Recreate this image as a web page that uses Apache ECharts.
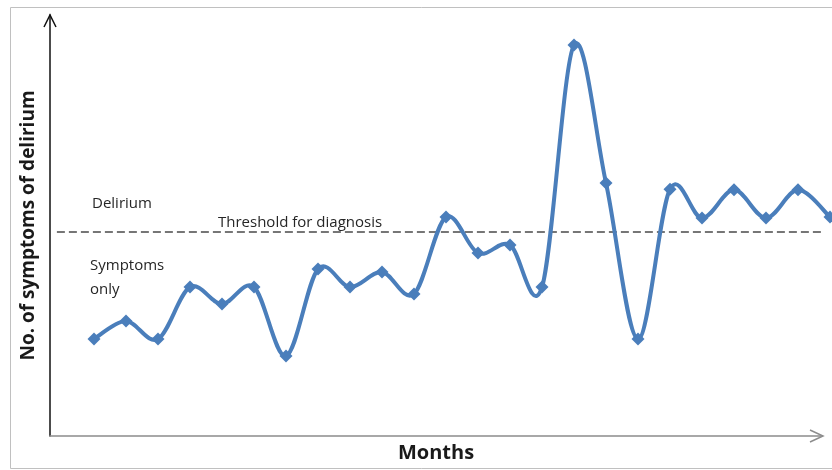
<!DOCTYPE html>
<html><head><meta charset="utf-8">
<script src="https://cdn.jsdelivr.net/npm/echarts@6/dist/echarts.min.js"></script>
<style>html,body{margin:0;padding:0;background:#fff}#c{width:832px;height:470px}</style>
</head><body><div id="c"></div>
<script>
const months = [1,2,3,4,5,6,7,8,9,10,11,12,13,14,15,16,17,18,19,20,21,22,23,24];
const symptoms = [2.85,3.38,2.85,4.38,3.88,4.38,2.35,4.91,4.38,4.82,4.18,6.44,5.38,5.62,4.38,11.5,7.44,2.85,7.26,6.41,7.24,6.41,7.24,6.44];
const threshold = 6;
const thresholdSpan = [-0.16, 24.1];
const yTitle = 'No. of symptoms of delirium';
const xTitle = 'Months';

const chart = echarts.init(document.getElementById('c'));
const font = '"Open Sans", sans-serif';
const blue = '#4a7ebb';

function renderCurve(params, api) {
  if (params.dataIndex !== 0) return null;
  const pts = months.map((m, i) => api.coord([m, symptoms[i]]));
  const n = pts.length;
  let d = 'M' + pts[0][0] + ',' + pts[0][1];
  for (let i = 0; i < n - 1; i++) {
    const p0 = pts[Math.max(0, i - 1)], p1 = pts[i], p2 = pts[i + 1], p3 = pts[Math.min(n - 1, i + 2)];
    const c1 = [p1[0] + (p2[0] - p0[0]) / 6, p1[1] + (p2[1] - p0[1]) / 6];
    const c2 = [p2[0] - (p3[0] - p1[0]) / 6, p2[1] - (p3[1] - p1[1]) / 6];
    d += ' C' + c1[0] + ',' + c1[1] + ' ' + c2[0] + ',' + c2[1] + ' ' + p2[0] + ',' + p2[1];
  }
  return {type: 'path', shape: {pathData: d}, style: {fill: 'none', stroke: blue, lineWidth: 4, lineJoin: 'round'}};
}

chart.setOption({
  animation: false,
  grid: {left: 50, top: 15, right: 10, bottom: 34, outerBoundsMode: 'none', containLabel: false},
  xAxis: {
    type: 'value', min: -0.375, max: 23.75,
    axisLine: {show: true, onZero: false, lineStyle: {color: '#8c8c8c', width: 1.5}},
    axisTick: {show: false}, axisLabel: {show: false}, splitLine: {show: false},
    name: xTitle, nameLocation: 'middle', nameGap: 7,
    nameTextStyle: {fontFamily: font, fontWeight: 'bold', fontSize: 20, color: '#1a1a1a'}
  },
  yAxis: {
    type: 'value', min: 0, max: 12.382,
    axisLine: {show: true, onZero: false, lineStyle: {color: '#111', width: 1.5}},
    axisTick: {show: false}, axisLabel: {show: false}, splitLine: {show: false},
    name: yTitle, nameLocation: 'middle', nameGap: 12,
    nameTextStyle: {fontFamily: font, fontWeight: 'bold', fontSize: 19, color: '#1a1a1a'}
  },
  graphic: [
    {type: 'rect', shape: {x: 10.5, y: 7.5, width: 830, height: 461}, style: {fill: 'none', stroke: '#c0c0c0', lineWidth: 1}, z: -1},
    {type: 'polyline', shape: {points: [[44, 27], [50, 15], [56, 27]]}, style: {fill: 'none', stroke: '#111', lineWidth: 1.5}},
    {type: 'polyline', shape: {points: [[810, 430], [823, 436], [810, 442]]}, style: {fill: 'none', stroke: '#8c8c8c', lineWidth: 1.5}},
    {type: 'text', left: 92, top: 196, style: {text: 'Delirium', fontFamily: font, fontSize: 15, fill: '#262626'}},
    {type: 'text', left: 218, top: 215, style: {text: 'Threshold for diagnosis', fontFamily: font, fontSize: 15, fill: '#262626'}},
    {type: 'text', left: 90, top: 254, style: {text: 'Symptoms\nonly', fontFamily: font, fontSize: 15, lineHeight: 24, fill: '#262626'}}
  ],
  series: [
    {
      type: 'line', data: thresholdSpan.map(x => [x, threshold]), clip: false,
      symbol: 'none', lineStyle: {type: [8, 4], color: '#4a4a4a', width: 1.3}, silent: true, z: 1
    },
    {
      type: 'custom', data: months.map((m, i) => [m, symptoms[i]]), renderItem: renderCurve, clip: false, z: 2, silent: true
    },
    {
      type: 'line', data: months.map((m, i) => [m, symptoms[i]]), clip: false, z: 3,
      symbol: 'diamond', symbolSize: 13, showSymbol: true,
      lineStyle: {opacity: 0}, itemStyle: {color: blue}
    }
  ]
});
</script></body></html>
